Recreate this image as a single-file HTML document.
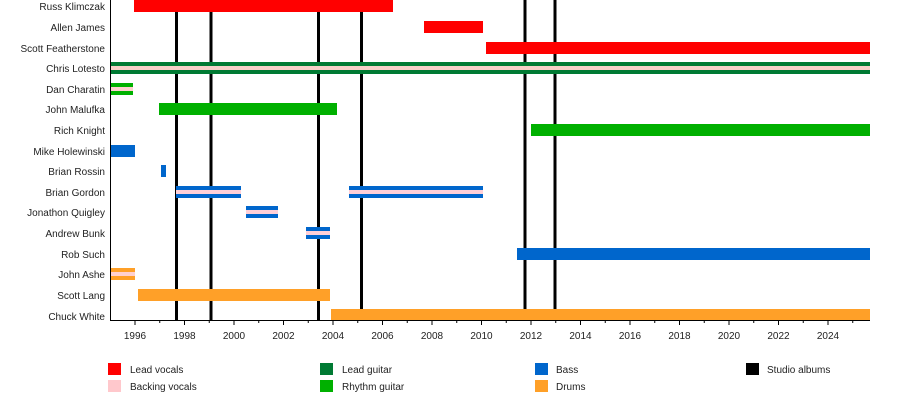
<!DOCTYPE html>
<html><head><style>body{margin:0;background:#fff}svg{display:block}text{font-family:"Liberation Sans",sans-serif;font-size:10px;fill:#222}</style></head><body>
<svg width="900" height="400" xmlns="http://www.w3.org/2000/svg">
<g fill="#000">
<rect x="175" y="0" width="3" height="320"/><rect x="209.5" y="0" width="3" height="320"/>
<rect x="317" y="0" width="3" height="320"/><rect x="360" y="0" width="3" height="320"/>
<rect x="523.5" y="0" width="3" height="320"/><rect x="553.5" y="0" width="3" height="320"/>
</g>
<g>
<rect x="134" y="0" width="259" height="12" fill="#ff0000"/>
<rect x="424" y="21" width="59" height="12" fill="#ff0000"/>
<rect x="486" y="42" width="384" height="12" fill="#ff0000"/>
<rect x="110" y="62" width="760" height="12" fill="#007a33"/><rect x="110" y="66" width="760" height="4" fill="#f6d0c8"/>
<rect x="110" y="83" width="23" height="12" fill="#00b000"/><rect x="110" y="87" width="23" height="4" fill="#ffd0d0"/>
<rect x="159" y="103" width="178" height="12" fill="#00b000"/>
<rect x="531" y="124" width="339" height="12" fill="#00b000"/>
<rect x="110" y="145" width="25" height="12" fill="#0066cc"/>
<rect x="161" y="165" width="5" height="12" fill="#0066cc"/>
<rect x="176" y="186" width="65" height="12" fill="#0066cc"/><rect x="176" y="190" width="65" height="4" fill="#ffd0d8"/>
<rect x="349" y="186" width="134" height="12" fill="#0066cc"/><rect x="349" y="190" width="134" height="4" fill="#ffd0d8"/>
<rect x="246" y="206" width="32" height="12" fill="#0066cc"/><rect x="246" y="210" width="32" height="4" fill="#ffd0d8"/>
<rect x="306" y="227" width="24" height="12" fill="#0066cc"/><rect x="306" y="231" width="24" height="4" fill="#ffd0d8"/>
<rect x="517" y="248" width="353" height="12" fill="#0066cc"/>
<rect x="110" y="268" width="25" height="12" fill="#ffa028"/><rect x="110" y="272" width="25" height="4" fill="#ffd0d0"/>
<rect x="138" y="289" width="192" height="12" fill="#ffa028"/>
<rect x="331" y="309" width="539" height="11" fill="#ffa028"/>
</g>
<rect x="110" y="0" width="1" height="321" fill="#000"/>
<rect x="110" y="320" width="760" height="1" fill="#000"/>
<g fill="#000" id="ticks"></g>
<g text-anchor="end">
<text x="105" y="10">Russ Klimczak</text><text x="105" y="31">Allen James</text>
<text x="105" y="52">Scott Featherstone</text><text x="105" y="72">Chris Lotesto</text>
<text x="105" y="93">Dan Charatin</text><text x="105" y="113">John Malufka</text>
<text x="105" y="134">Rich Knight</text><text x="105" y="155">Mike Holewinski</text>
<text x="105" y="175">Brian Rossin</text><text x="105" y="196">Brian Gordon</text>
<text x="105" y="216">Jonathon Quigley</text><text x="105" y="237">Andrew Bunk</text>
<text x="105" y="258">Rob Such</text><text x="105" y="278">John Ashe</text>
<text x="105" y="299">Scott Lang</text><text x="105" y="320">Chuck White</text>
</g>
<g text-anchor="middle" id="yl"></g>
<rect x="108" y="363" width="13" height="12" fill="#ff0000"/><text x="130" y="373">Lead vocals</text>
<rect x="108" y="380" width="13" height="12" fill="#ffc8cc"/><text x="130" y="390">Backing vocals</text>
<rect x="320" y="363" width="13" height="12" fill="#007a33"/><text x="342" y="373">Lead guitar</text>
<rect x="320" y="380" width="13" height="12" fill="#00b000"/><text x="342" y="390">Rhythm guitar</text>
<rect x="535" y="363" width="13" height="12" fill="#0066cc"/><text x="556" y="373">Bass</text>
<rect x="535" y="380" width="13" height="12" fill="#ffa028"/><text x="556" y="390">Drums</text>
<rect x="746" y="363" width="13" height="12" fill="#000"/><text x="767" y="373">Studio albums</text>
<script>
var t=document.getElementById('ticks'),l=document.getElementById('yl'),ns='http://www.w3.org/2000/svg';
for(var y=1996;y<=2025;y++){var x=110.25+(y-1995)*24.75;var r=document.createElementNS(ns,'rect');r.setAttribute('x',x-0.5);r.setAttribute('y',320);r.setAttribute('width',1);r.setAttribute('height',(y%2==0)?5:3);t.appendChild(r);
if(y%2==0){var s=document.createElementNS(ns,'text');s.setAttribute('x',x);s.setAttribute('y',339);s.textContent=y;l.appendChild(s);}}
</script>
</svg>
</body></html>
